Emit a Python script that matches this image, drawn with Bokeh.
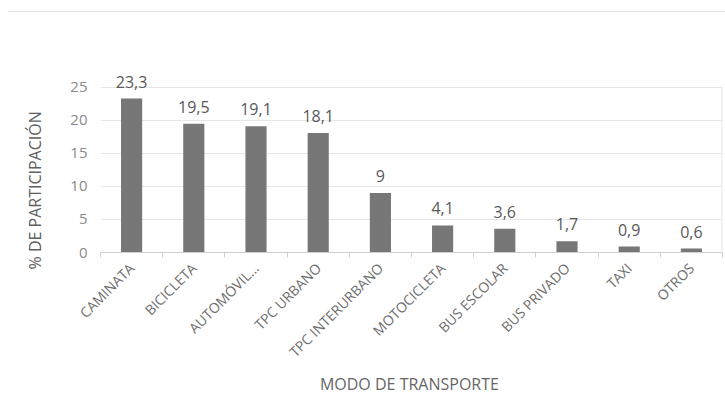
import math
from bokeh.plotting import figure
from bokeh.models import ColumnDataSource, LabelSet, FixedTicker, Range1d, Title, Div
from bokeh.layouts import column
from bokeh.core.properties import value
from bokeh.embed import file_html
from bokeh.resources import INLINE

categories = ["CAMINATA", "BICICLETA", "AUTOMÓVIL...", "TPC URBANO", "TPC INTERURBANO",
              "MOTOCICLETA", "BUS ESCOLAR", "BUS PRIVADO", "TAXI", "OTROS"]
values = [23.3, 19.5, 19.1, 18.1, 9, 4.1, 3.6, 1.7, 0.9, 0.6]
value_labels = ["23,3", "19,5", "19,1", "18,1", "9", "4,1", "3,6", "1,7", "0,9", "0,6"]
y_ticks = [0, 5, 10, 15, 20, 25]
x_title = "MODO  DE TRANSPORTE"
y_title = "% DE PARTICIPACIÓN"

FONT = "Open Sans"
idx = list(range(len(categories)))
src = ColumnDataSource(dict(x=idx, top=values, lab=value_labels))

TOP_DIV = 13
p = figure(width=725, height=398 - TOP_DIV, output_backend="svg", toolbar_location=None,
           x_range=Range1d(-0.5, len(categories) - 0.5), y_range=Range1d(0, 28),
           min_border_left=100, min_border_right=3, min_border_top=68 - TOP_DIV, min_border_bottom=145)
p.outline_line_color = None
p.background_fill_color = "white"
p.border_fill_color = "white"

p.xgrid.grid_line_color = None
p.ygrid.ticker = FixedTicker(ticks=y_ticks)
p.ygrid.grid_line_color = "#e6e6e6"

# faint right edge of the plot area
p.segment(x0=[len(categories) - 0.5], y0=[0], x1=[len(categories) - 0.5], y1=[y_ticks[-1]],
          line_color="#e6e6e6", line_width=2)

p.vbar(x="x", top="top", width=0.34, source=src, fill_color="#777777", line_color=None)

p.add_layout(LabelSet(x="x", y="top", text="lab", source=src, text_align="center",
                      text_baseline="bottom", y_offset=11, text_font_size=value("16px"),
                      text_color=value("#595959"), text_font=value(FONT)))

# x axis
p.xaxis.ticker = FixedTicker(ticks=idx, minor_ticks=[i - 0.5 for i in range(len(categories) + 1)])
p.xaxis.major_label_overrides = {i: c for i, c in enumerate(categories)}
p.xaxis.major_label_orientation = math.pi / 4
p.xaxis.major_tick_line_color = None
p.xaxis.major_tick_out = 0
p.xaxis.minor_tick_line_color = "#d0d0d0"
p.xaxis.minor_tick_in = 0
p.xaxis.minor_tick_out = 5
p.xaxis.axis_line_color = "#d0d0d0"
p.xaxis.major_label_text_font = FONT
p.xaxis.major_label_text_font_size = "14px"
p.xaxis.major_label_text_color = "#6e6e6e"
p.xaxis.major_label_standoff = 8
p.xaxis.axis_label = x_title
p.xaxis.axis_label_text_font = FONT
p.xaxis.axis_label_text_font_size = "16px"
p.xaxis.axis_label_text_font_style = "normal"
p.xaxis.axis_label_text_color = "#666666"
p.xaxis.axis_label_standoff = 2

# y axis
p.yaxis.ticker = FixedTicker(ticks=y_ticks)
p.yaxis.axis_line_color = None
p.yaxis.major_tick_line_color = None
p.yaxis.major_tick_out = 0
p.yaxis.minor_tick_line_color = None
p.yaxis.major_label_text_font = FONT
p.yaxis.major_label_text_font_size = "15px"
p.yaxis.major_label_text_color = "#8a8a8a"
p.yaxis.major_label_standoff = 13

p.add_layout(Title(text=y_title, align="left", vertical_align="top", offset=-17, standoff=40,
                   text_font=FONT, text_font_size="16px", text_font_style="normal",
                   text_color="#606060"), "left")

div = Div(text="", width=717, height=TOP_DIV - 1, margin=(0, 0, 0, 8),
          styles={"border-bottom": "1px solid #e2e2e2"})

layout = column(div, p, spacing=0)
open("out.html", "w").write(file_html(layout, INLINE))
